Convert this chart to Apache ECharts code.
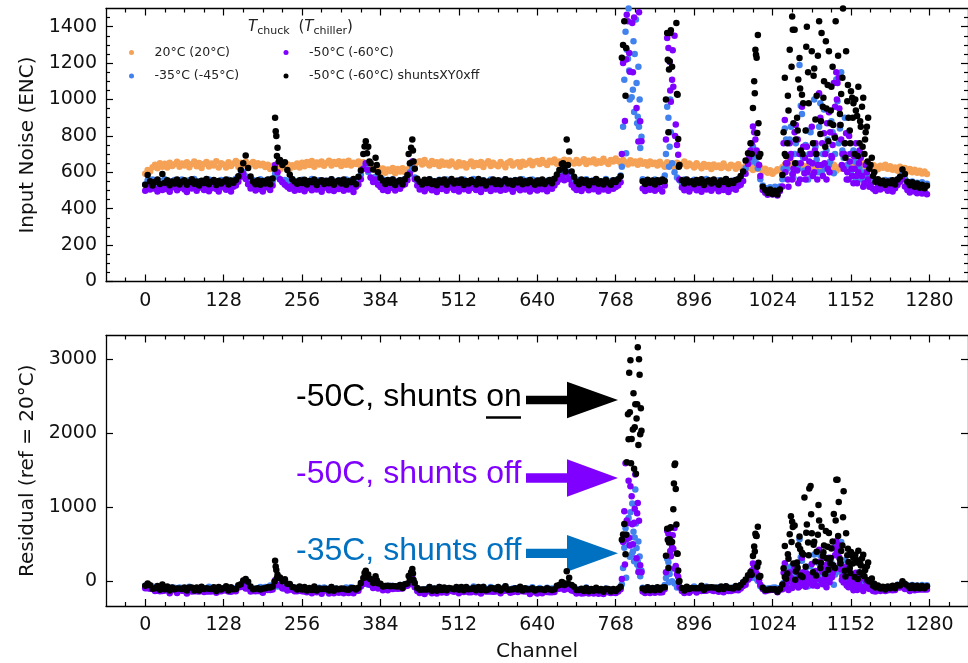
<!DOCTYPE html>
<html><head><meta charset="utf-8">
<script src="https://cdn.jsdelivr.net/npm/echarts@6/dist/echarts.min.js"></script>
<style>html,body{margin:0;padding:0;background:#fff}#c{width:968px;height:663px}</style>
</head><body><div id="c"></div>
<script>
// ---------------- DATA ----------------
const channelStep = 4; // one value per 4 channels (0 .. 1276)
const seriesNames = ['20°C (20°C)', '-35°C (-45°C)', '-50°C (-60°C)', '-50°C (-60°C) shuntsXY0xff'];
const xTicks = [0,128,256,384,512,640,768,896,1024,1152,1280];
const noiseTicks = [0,200,400,600,800,1000,1200,1400];
const residualTicks = [0,1000,2000,3000];

// 20°C (reference)
const noiseRef = [
592,612,604,628,641,622,650,631,647,626,652,634,644,658,630,649,
637,655,628,646,660,633,651,624,645,657,632,649,638,661,627,650,
643,626,655,634,648,662,631,652,637,659,629,646,656,633,650,639,
647,629,641,618,636,623,645,615,638,627,644,620,639,631,648,626,
652,633,657,640,662,631,654,643,660,636,651,664,638,656,645,661,
635,658,642,664,637,653,646,660,632,655,628,647,622,636,611,626,
602,621,598,616,607,624,595,618,604,622,600,615,628,612,640,655,
661,643,667,650,638,662,646,655,634,659,641,652,637,660,644,631,
655,638,650,627,646,659,633,651,640,656,629,648,661,635,652,642,
633,657,644,628,652,661,637,649,655,631,658,642,650,664,639,656,
662,645,668,651,640,664,655,671,647,660,652,669,643,666,654,648,
667,650,659,672,646,663,655,670,649,661,653,674,658,645,668,660,
676,662,651,668,655,643,666,650,659,641,663,647,655,638,660,645,
652,637,658,643,631,655,640,649,628,653,636,645,660,633,648,639,
627,650,636,622,645,631,640,618,643,629,637,624,648,630,622,641,
636,619,644,627,615,638,622,633,612,630,618,626,605,620,598,611,
592,605,617,610,628,642,655,636,650,629,645,622,640,618,633,626,
614,636,621,609,630,617,639,612,625,641,608,628,620,635,615,638,
648,660,642,656,637,651,629,646,621,640,632,617,636,625,641,619,
633,614,627,608,630,612,623,605,618,600,614,597,609,593,605,590];

// -35°C shunts off
const noiseCold35 = [
533,556,541,560,546,530,553,539,562,544,529,551,558,536,549,561,
542,531,557,548,563,535,550,527,554,540,561,537,552,545,532,558,
547,534,559,541,553,565,570,588,602,578,556,540,558,535,551,562,
538,555,543,562,549,592,576,561,547,558,540,553,563,536,550,544,
559,537,552,545,563,532,548,557,540,554,531,550,562,539,546,556,
534,552,561,540,557,545,530,562,587,620,640,602,572,556,576,551,
541,560,535,553,547,562,531,549,557,538,563,577,600,625,571,552,
545,530,556,541,562,537,551,544,559,533,548,561,539,554,542,528,
556,543,561,534,550,547,563,538,552,529,557,545,536,560,541,549,
531,554,546,562,537,551,540,558,533,549,562,543,555,538,560,547,
539,557,546,532,553,541,559,562,576,590,602,582,605,577,556,544,
560,536,551,545,562,533,549,556,540,554,531,547,563,538,552,543,
556,562,582,850,1372,1224,1600,1053,1900,905,734,562,541,555,536,549,
561,540,553,546,582,960,740,650,600,572,557,541,560,535,550,546,
559,532,548,554,539,563,544,530,552,541,557,536,550,562,533,548,
555,540,562,577,602,622,662,702,742,682,622,562,527,514,503,518,
506,521,502,522,562,840,620,780,590,700,650,1190,920,610,830,700,
580,1000,670,850,600,945,720,640,880,595,1110,760,1150,680,620,820,
600,720,560,640,580,700,550,575,560,548,555,545,552,536,558,541,
556,539,550,562,570,590,566,548,532,550,527,543,531,546,524,537];

// -50°C shunts off
const noiseCold50 = [
498,521,505,527,510,495,518,503,524,507,493,516,529,501,514,522,
506,492,519,511,526,499,515,530,503,520,496,512,525,508,494,517,
523,504,517,495,520,528,548,576,592,563,534,511,526,500,519,507,
494,516,525,503,528,640,600,562,545,532,521,509,527,498,515,504,
520,496,512,527,501,518,506,524,493,515,529,502,511,497,522,508,
517,499,525,506,514,492,520,533,562,620,650,612,572,547,560,531,
519,503,526,497,514,522,500,518,509,527,534,556,592,660,562,527,
505,521,496,513,528,502,517,492,520,508,524,499,515,530,503,516,
494,518,507,525,499,514,528,503,516,492,521,510,526,497,513,505,
522,498,515,504,527,509,493,519,512,501,524,506,517,495,520,508,
500,523,507,515,496,519,510,528,546,561,577,556,592,562,532,515,
503,524,497,512,526,501,518,507,523,494,515,505,521,498,513,509,
519,527,545,1200,2250,1430,1950,1150,2100,1700,880,511,497,523,504,516,
499,520,508,495,528,1338,1207,1108,1350,750,560,517,502,521,495,512,
524,501,516,493,519,506,527,498,512,520,496,515,503,525,492,510,
518,504,525,532,552,592,645,720,852,780,700,580,503,488,476,495,
478,494,472,497,522,888,650,760,560,820,610,700,960,595,740,660,
850,600,700,1035,640,815,560,930,690,1090,1150,1120,780,620,815,560,
700,540,760,600,680,520,640,560,532,509,497,519,505,528,512,499,
518,495,512,530,548,560,522,503,489,507,494,485,501,483,497,480];

// -50°C shunts on (shuntsXY0xff)
const noiseShunts = [
532,585,551,528,547,560,536,590,542,557,529,550,538,561,533,548,
556,531,545,562,537,550,528,553,541,563,534,548,558,530,552,539,
549,560,533,555,542,558,578,612,650,692,624,577,550,535,557,531,
552,538,561,534,566,900,735,668,640,655,612,586,562,550,537,556,
541,559,533,552,545,561,530,548,557,536,553,540,562,531,549,555,
538,560,532,551,546,563,535,575,610,700,770,740,650,615,680,600,
570,553,536,558,542,561,530,549,556,534,562,585,650,780,620,565,
548,533,559,541,562,536,551,529,557,544,560,532,549,563,538,554,
543,561,530,552,539,558,547,533,563,540,555,528,550,545,561,536,
556,534,549,562,538,553,531,557,544,560,535,551,540,558,546,532,
555,539,561,536,549,558,540,565,588,612,645,622,780,714,605,575,
550,535,561,542,556,529,552,545,563,537,551,533,558,544,531,556,
547,562,578,1300,1020,2900,3650,2700,3050,3800,2650,551,536,559,542,555,
533,557,545,561,552,1365,1210,1180,2200,1030,640,557,538,560,544,551,
535,558,543,562,530,549,556,538,561,544,532,555,547,563,536,552,
541,558,562,580,605,665,705,760,953,1273,1355,700,520,503,486,505,
481,499,478,506,585,1119,760,1273,1456,1383,900,1228,1026,1750,1400,1880,
1265,1170,1020,1430,1366,1100,950,1265,1070,1550,1980,1700,1030,1850,1265,900,
1045,980,940,1070,850,1010,820,900,640,580,548,562,540,553,531,549,
540,556,533,560,575,615,590,548,529,545,521,538,515,532,512,526];

// additional readings [channel, value] inside the noisy regions
const cold35Extra = [
[778,630],[782,1108],[785,705],[786,1273],[789,1500],[790,1160],[791,1000],[794,1013],[795,1700],[797,1320],
[798,932],[799,1250],[801,1440],[802,1090],[803,870],[805,1180],[806,850],[807,1000],[810,795],
[850,700],[854,900],[855,630],[857,1000],[858,820],
[990,660],[994,700],[998,650],
[1042,620],[1046,780],[1050,690],[1054,850],[1058,570],[1062,760],[1066,620],[1070,965],[1074,680],[1078,750],
[1082,560],[1086,820],[1090,650],[1094,740],[1098,600],[1102,980],[1106,700],[1110,620],[1114,780],[1118,660],
[1122,820],[1126,700],[1130,990],[1134,840],[1138,720],[1142,900],[1146,640],[1150,700],[1154,580],[1158,660],
[1162,560],[1166,620],[1170,560],[1174,600]];

const cold50Extra = [
[778,700],[782,1600],[783,882],[785,1220],[786,1466],[789,2000],[790,1255],[791,1152],[794,1800],[795,1420],
[798,1450],[799,1640],[802,953],[803,1560],[805,769],[806,1480],[810,770],
[850,780],[854,1283],[857,1050],[858,988],[861,1270],[862,1070],[865,800],[866,862],[870,697],
[986,680],[990,760],[994,820],[998,720],[1002,640],
[1042,760],[1045,600],[1046,650],[1049,560],[1050,520],[1053,680],[1054,700],[1057,590],[1058,620],[1062,860],
[1065,780],[1066,540],[1069,560],[1070,650],[1074,740],[1077,680],[1078,560],[1081,600],[1082,620],[1086,700],
[1089,650],[1090,580],[1093,720],[1094,760],[1097,560],[1098,640],[1102,900],[1105,760],[1106,580],[1109,650],
[1110,700],[1113,870],[1114,620],[1117,600],[1118,820],[1121,680],[1122,750],[1125,800],[1126,960],[1129,1000],
[1130,1090],[1133,950],[1134,860],[1137,640],[1138,700],[1141,700],[1142,760],[1145,560],[1146,600],[1149,800],
[1150,660],[1153,620],[1154,580],[1157,690],[1158,620],[1161,580],[1162,540],[1165,650],[1166,720],[1170,580],
[1174,540],[1178,600],[1182,520]];

const shuntsExtra = [
[211,620],[213,825],[214,800],[215,690],[218,660],
[358,742],[362,705],[366,660],[378,640],
[430,700],[434,735],[437,720],[438,660],
[682,650],[686,605],[690,640],
[778,1230],[782,1430],[785,1283],[786,2250],[789,2560],[790,3480],[791,2950],[793,2260],[794,2570],[797,3190],
[798,2180],[799,2740],[801,2110],[802,2840],[803,3030],[805,2480],[806,3660],[807,3450],[809,3000],[810,2680],
[850,1000],[853,1218],[854,820],[855,1165],[857,1365],[858,1380],[862,1600],[863,1950],[865,2220],[866,1900],
[867,1420],[869,1026],[870,783],[871,630],
[990,700],[994,1100],[995,1035],[997,1246],[998,1230],[999,816],[1001,870],[1002,685],
[1042,820],[1044,700],[1046,690],[1049,1020],[1050,940],[1054,1530],[1055,1180],[1057,1383],[1058,870],[1061,650],
[1062,780],[1065,830],[1066,1110],[1069,1060],[1070,720],[1073,700],[1074,980],[1078,830],[1079,1290],[1082,1150],
[1083,980],[1086,1900],[1087,1520],[1090,760],[1091,1130],[1094,890],[1095,700],[1098,1240],[1099,1640],[1102,810],
[1103,880],[1106,960],[1107,1010],[1110,740],[1111,1320],[1114,1080],[1115,770],[1118,870],[1119,940],[1122,1180],
[1123,860],[1126,790],[1127,1430],[1130,2000],[1131,1240],[1134,920],[1135,860],[1138,1120],[1139,1500],[1142,760],
[1143,680],[1146,990],[1147,1080],[1150,830],[1151,760],[1154,1010],[1155,900],[1158,700],[1159,1000],[1162,910],
[1163,690],[1166,760],[1167,880],[1170,960],[1171,740],[1174,700],[1175,780],[1178,850],[1179,660],[1182,620],
[1186,680],[1190,600]];

// ---------------- BUILD ----------------
const colors = ['#f5a257', '#4282ef', '#7f00ff', '#000000'];
const xMin = -64, xMax = 1343;
const xMinorTicks = []; for (let v = -32; v <= 1312; v += 32) if (v % 128 !== 0) xMinorTicks.push(v);
const noiseMinorTicks = []; for (let v = 50; v < 1500; v += 50) if (v % 200 !== 0) noiseMinorTicks.push(v);

function refAt(ch) {
  const i = Math.max(0, Math.min(noiseRef.length - 1, Math.round(ch / channelStep)));
  return noiseRef[i];
}
function pts(arr, extra) {
  return arr.map((v, i) => [i * channelStep, v]).concat(extra || []);
}
function resid(arr, extra) {
  return arr.map((v, i) => [i * channelStep, v - noiseRef[i]])
    .concat((extra || []).map(p => [p[0], p[1] - refAt(p[0])]));
}

const FONT = 'DejaVu Sans';
const lineSt = {color: '#000', width: 1.3};
const tickSt = {color: '#000', width: 1.2};
const lbl = {fontSize: 19, fontFamily: FONT, color: '#111'};

function xAxes(grid, withName) {
  const base = {gridIndex: grid, type: 'value', min: xMin, max: xMax, splitLine: {show: false}};
  return [
    Object.assign({}, base, {position: 'bottom',
      axisLine: {show: true, onZero: false, lineStyle: lineSt},
      axisTick: {show: true, inside: true, length: 7, customValues: xTicks, lineStyle: tickSt},
      axisLabel: Object.assign({show: true, customValues: xTicks, margin: 10, formatter: v => String(v)}, lbl),
      name: withName ? 'Channel' : '', nameLocation: 'middle', nameGap: 36,
      nameTextStyle: {fontSize: 20, fontFamily: FONT, color: '#111'}}),
    Object.assign({}, base, {position: 'bottom', axisLine: {show: false, onZero: false},
      axisTick: {show: true, inside: true, length: 4, customValues: xMinorTicks, lineStyle: tickSt},
      axisLabel: {show: false}}),
    Object.assign({}, base, {position: 'top', axisLine: {show: true, onZero: false, lineStyle: lineSt},
      axisTick: {show: true, inside: true, length: 7, customValues: xTicks, lineStyle: tickSt},
      axisLabel: {show: false}}),
    Object.assign({}, base, {position: 'top', axisLine: {show: false, onZero: false},
      axisTick: {show: true, inside: true, length: 4, customValues: xMinorTicks, lineStyle: tickSt},
      axisLabel: {show: false}})
  ];
}
function yAxes(grid, min, max, major, minor, name, nameGap) {
  const base = {gridIndex: grid, type: 'value', min: min, max: max, splitLine: {show: false}};
  const out = [
    Object.assign({}, base, {position: 'left',
      axisLine: {show: true, onZero: false, lineStyle: lineSt},
      axisTick: {show: true, inside: true, length: 7, customValues: major, lineStyle: tickSt},
      axisLabel: Object.assign({show: true, customValues: major, margin: 9, formatter: v => String(v)}, lbl),
      name: name, nameLocation: 'middle', nameGap: nameGap,
      nameTextStyle: {fontSize: 20, fontFamily: FONT, color: '#111'}}),
    Object.assign({}, base, {position: 'right',
      axisLine: {show: true, onZero: false, lineStyle: lineSt},
      axisTick: {show: true, inside: true, length: 7, customValues: major, lineStyle: tickSt},
      axisLabel: {show: false}})
  ];
  if (minor) {
    out.push(Object.assign({}, base, {position: 'left', axisLine: {show: false, onZero: false},
      axisTick: {show: true, inside: true, length: 4, customValues: minor, lineStyle: tickSt}, axisLabel: {show: false}}));
    out.push(Object.assign({}, base, {position: 'right', axisLine: {show: false, onZero: false},
      axisTick: {show: true, inside: true, length: 4, customValues: minor, lineStyle: tickSt}, axisLabel: {show: false}}));
  }
  return out;
}

const xAxis = xAxes(0, false).concat(xAxes(1, true));        // 0..3 top panel, 4..7 bottom panel
const yAxis = yAxes(0, 0, 1500, noiseTicks, noiseMinorTicks, 'Input Noise (ENC)', 65)   // 0..3
  .concat(yAxes(1, -332, 3318, residualTicks, null, 'Residual (ref = 20°C)', 65));      // 4..5

function sc(name, data, color, xi, yi, z) {
  return {type: 'scatter', name: name, data: data, xAxisIndex: xi, yAxisIndex: yi,
    symbol: 'circle', symbolSize: 6.5, itemStyle: {color: color, opacity: 1},
    clip: true, silent: true, z: z, emphasis: {disabled: true}};
}

const series = [
  sc(seriesNames[0], pts(noiseRef), colors[0], 0, 0, 2),
  sc(seriesNames[1], pts(noiseCold35, cold35Extra), colors[1], 0, 0, 3),
  sc(seriesNames[2], pts(noiseCold50, cold50Extra), colors[2], 0, 0, 4),
  sc(seriesNames[3], pts(noiseShunts, shuntsExtra), colors[3], 0, 0, 5),
  sc(seriesNames[1], resid(noiseCold35, cold35Extra), colors[1], 4, 4, 3),
  sc(seriesNames[2], resid(noiseCold50, cold50Extra), colors[2], 4, 4, 4),
  sc(seriesNames[3], resid(noiseShunts, shuntsExtra), colors[3], 4, 4, 5)
];

const legendText = {fontSize: 12.5, fontFamily: FONT, color: '#222'};
const txtFont = '32px "Liberation Sans", Arial, sans-serif';
function note(text, y, color) {
  return {type: 'text', x: 296, y: y, silent: true,
    style: {text: text, font: txtFont, fill: color, align: 'left', verticalAlign: 'middle',
      textAlign: 'left', textVerticalAlign: 'middle'}};
}
function arrow(yc, headHalf, shaftHalf, color) {
  return {type: 'polygon', silent: true,
    shape: {points: [[526, yc - shaftHalf], [567, yc - shaftHalf], [567, yc - headHalf], [618, yc],
      [567, yc + headHalf], [567, yc + shaftHalf], [526, yc + shaftHalf]]},
    style: {fill: color}};
}

const option = {
  animation: false,
  backgroundColor: '#ffffff',
  grid: [
    {left: 106, top: 8.5, width: 863, height: 273},
    {left: 106, top: 335.5, width: 863, height: 271.2}
  ],
  title: {
    left: 248, top: 18, padding: 0,
    text: '{i|T}{s|chuck}  {n|(}{i|T}{s|chiller}{n|)}',
    textStyle: {fontSize: 14, fontWeight: 'normal', fontFamily: FONT, color: '#222',
      rich: {
        i: {fontStyle: 'italic', fontSize: 15, fontFamily: FONT, color: '#222'},
        s: {fontSize: 11, fontFamily: FONT, color: '#222', padding: [8, 0, 0, 0]},
        n: {fontSize: 15, fontFamily: FONT, color: '#222'}
      }}
  },
  legend: [
    {data: [seriesNames[0], seriesNames[1]], orient: 'vertical', left: 129, top: 46, padding: 0,
      itemWidth: 36, itemHeight: 5, itemGap: 10.5, icon: 'circle', textStyle: legendText,
      selectedMode: false},
    {data: [seriesNames[2], seriesNames[3]], orient: 'vertical', left: 283.5, top: 46, padding: 0,
      itemWidth: 36, itemHeight: 5, itemGap: 10.5, icon: 'circle', textStyle: legendText,
      selectedMode: false}
  ],
  xAxis: xAxis,
  yAxis: yAxis,
  series: series,
  graphic: [
    note('-50C, shunts on', 397, '#000000'),
    {type: 'line', silent: true, shape: {x1: 486, y1: 417.5, x2: 521, y2: 417.5},
      style: {stroke: '#000000', lineWidth: 2.4}},
    note('-50C, shunts off', 474, '#8000ff'),
    note('-35C, shunts off', 551, '#0070c0'),
    arrow(400, 18.3, 4.3, '#000000'),
    arrow(478, 18.7, 4.8, '#8000ff'),
    arrow(553.3, 18.4, 4.6, '#0070c0')
  ]
};

const chart = echarts.init(document.getElementById('c'), null, {renderer: 'canvas'});
chart.setOption(option);
</script></body></html>
